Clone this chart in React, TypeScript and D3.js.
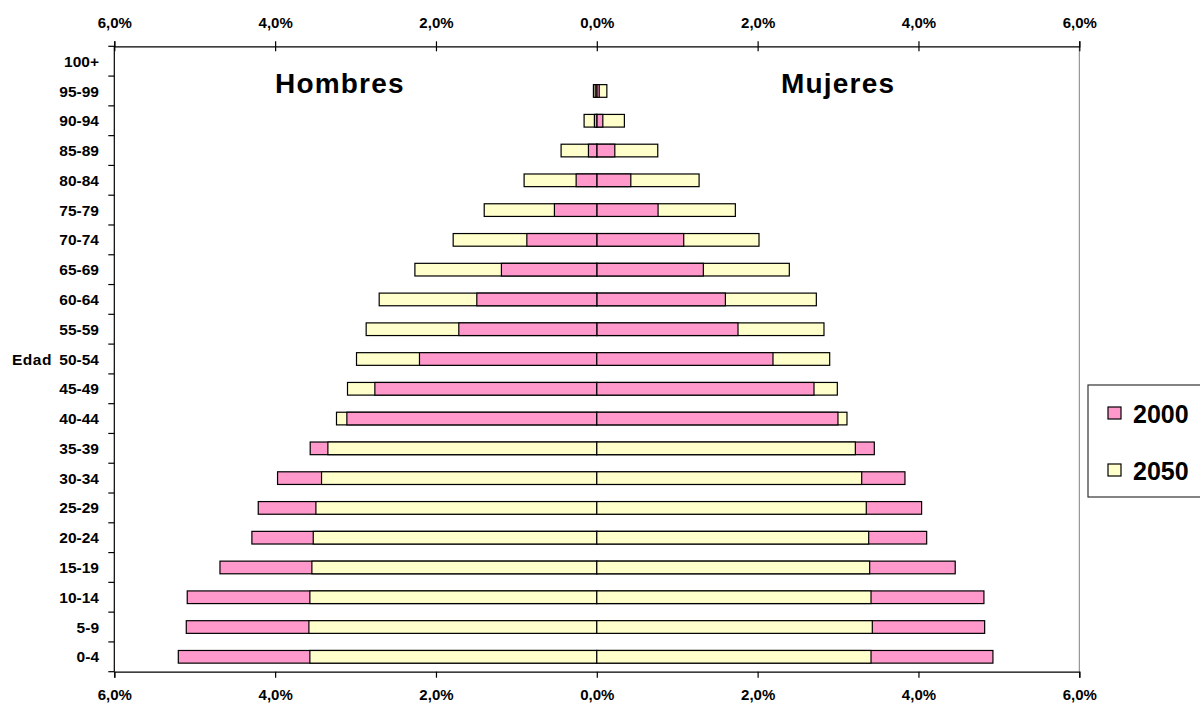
import * as d3 from "d3";
import { useEffect, useRef } from "react";

// age groups, top to bottom
const AGES = [
  "100+", "95-99", "90-94", "85-89", "80-84", "75-79", "70-74", "65-69",
  "60-64", "55-59", "50-54", "45-49", "40-44", "35-39", "30-34", "25-29",
  "20-24", "15-19", "10-14", "5-9", "0-4",
];

// % of total population, same order as AGES
const MEN_2000 = [
  0, 0.02, 0.03, 0.104, 0.257, 0.527, 0.87, 1.186, 1.492, 1.716, 2.205,
  2.76, 3.108, 3.564, 3.97, 4.21, 4.289, 4.686, 5.093, 5.105, 5.204,
];
const MEN_2050 = [
  0, 0.042, 0.158, 0.444, 0.904, 1.4, 1.786, 2.262, 2.706, 2.868, 2.988,
  3.1, 3.237, 3.344, 3.423, 3.493, 3.526, 3.543, 3.568, 3.58, 3.568,
];
const WOMEN_2000 = [
  0, 0.03, 0.075, 0.224, 0.423, 0.762, 1.081, 1.325, 1.599, 1.756, 2.191,
  2.701, 2.999, 3.451, 3.832, 4.039, 4.102, 4.457, 4.814, 4.823, 4.926,
];
const WOMEN_2050 = [
  0, 0.125, 0.343, 0.758, 1.272, 1.723, 2.017, 2.394, 2.73, 2.825, 2.896,
  2.991, 3.111, 3.215, 3.294, 3.351, 3.381, 3.393, 3.41, 3.426, 3.41,
];

const X_TICKS = [-6, -4, -2, 0, 2, 4, 6];

const SERIES = [
  { year: "2000", color: "#FF99CC", men: MEN_2000, women: WOMEN_2000 },
  { year: "2050", color: "#FFFFCC", men: MEN_2050, women: WOMEN_2050 },
];

const FONT = "'Liberation Sans', Arial, sans-serif";

interface Bar {
  age: string;
  value: number;
  color: string;
}

export default function App() {
  const svgRef = useRef<SVGSVGElement>(null);
  const width = 1200;
  const height = 704;

  useEffect(() => {
    if (!svgRef.current) return;
    const svg = d3.select(svgRef.current);
    svg.selectAll("*").remove();

    const plot = { left: 114.3, right: 1079.3, top: 46.3, bottom: 671.7 };

    const xScale = d3.scaleLinear().domain([-6, 6]).range([plot.left, plot.right]);
    const yScale = d3
      .scaleBand<string>()
      .domain(AGES)
      .range([plot.top, plot.bottom])
      .paddingInner(0.575)
      .paddingOuter(0.2875);

    const fmt = (d: d3.NumberValue) => Math.abs(+d).toFixed(1).replace(".", ",") + "%";

    // Bars: larger drawn first so the smaller one sits on top
    const bars: Bar[] = [];
    for (const s of SERIES) {
      AGES.forEach((age, i) => {
        bars.push({ age, value: -s.men[i], color: s.color });
        bars.push({ age, value: s.women[i], color: s.color });
      });
    }
    bars.sort((a, b) => Math.abs(b.value) - Math.abs(a.value));

    svg
      .append("g")
      .selectAll("rect")
      .data(bars.filter((b) => b.value !== 0))
      .join("rect")
      .attr("x", (d) => Math.min(xScale(0), xScale(d.value)))
      .attr("y", (d) => yScale(d.age)!)
      .attr("width", (d) => Math.abs(xScale(d.value) - xScale(0)))
      .attr("height", yScale.bandwidth())
      .style("fill", (d) => d.color)
      .style("stroke", "#000")
      .style("stroke-width", 1.2);

    // Right border of plot area
    svg
      .append("line")
      .attr("x1", plot.right)
      .attr("x2", plot.right)
      .attr("y1", plot.top)
      .attr("y2", plot.bottom)
      .style("stroke", "#808080")
      .style("stroke-width", 1);

    // Top axis (ticks cross the line)
    const top = svg
      .append("g")
      .attr("transform", `translate(0,${plot.top})`)
      .call(d3.axisTop(xScale).tickValues(X_TICKS).tickFormat(fmt).tickSize(5).tickPadding(13));
    top
      .selectAll(".tick")
      .append("line")
      .attr("y2", 5)
      .style("stroke", "#000");

    // Bottom axis
    const bottom = svg
      .append("g")
      .attr("transform", `translate(0,${plot.bottom})`)
      .call(d3.axisBottom(xScale).tickValues(X_TICKS).tickFormat(fmt).tickSize(6).tickPadding(12));

    for (const ax of [top, bottom]) {
      ax.selectAll("text")
        .style("font-family", FONT)
        .style("font-size", "15px")
        .style("font-weight", "bold")
        .style("fill", "#000");
      ax.selectAll(".domain, .tick line").style("stroke", "#000").style("stroke-width", 1.2);
    }

    // Left axis: line, boundary ticks, age labels
    const left = svg.append("g");
    left
      .append("line")
      .attr("x1", plot.left)
      .attr("x2", plot.left)
      .attr("y1", plot.top)
      .attr("y2", plot.bottom)
      .style("stroke", "#000")
      .style("stroke-width", 1.2);

    const step = yScale.step();
    left
      .selectAll("line.tick")
      .data(d3.range(AGES.length + 1))
      .join("line")
      .attr("class", "tick")
      .attr("x1", plot.left - 6)
      .attr("x2", plot.left)
      .attr("y1", (i) => plot.top + i * step)
      .attr("y2", (i) => plot.top + i * step)
      .style("stroke", "#000")
      .style("stroke-width", 1.2);

    left
      .selectAll("text.age")
      .data(AGES)
      .join("text")
      .attr("class", "age")
      .attr("x", 99)
      .attr("y", (d) => yScale(d)! + yScale.bandwidth() / 2)
      .attr("dy", "0.36em")
      .attr("text-anchor", "end")
      .style("font-family", FONT)
      .style("font-size", "15.5px")
      .style("font-weight", "bold")
      .text((d) => d);

    // Axis title
    svg
      .append("text")
      .attr("x", 12)
      .attr("y", yScale("50-54")! + yScale.bandwidth() / 2)
      .attr("dy", "0.36em")
      .style("font-family", FONT)
      .style("font-size", "15.5px")
      .style("font-weight", "bold")
      .style("letter-spacing", "0.5px")
      .text("Edad");

    // Side labels
    const side = [
      { text: "Hombres", x: 275 },
      { text: "Mujeres", x: 781 },
    ];
    svg
      .selectAll("text.side")
      .data(side)
      .join("text")
      .attr("class", "side")
      .attr("x", (d) => d.x)
      .attr("y", 93.3)
      .style("font-family", FONT)
      .style("font-size", "28px")
      .style("font-weight", "bold")
      .style("letter-spacing", "1.2px")
      .text((d) => d.text);

    // Legend
    const legend = svg.append("g").attr("transform", "translate(1088,385)");
    legend
      .append("rect")
      .attr("width", 130)
      .attr("height", 112)
      .style("fill", "#fff")
      .style("stroke", "#333")
      .style("stroke-width", 1.2);

    SERIES.forEach((s, i) => {
      const item = legend.append("g").attr("transform", `translate(0,${i * 57})`);
      item
        .append("rect")
        .attr("x", 20)
        .attr("y", 22)
        .attr("width", 13)
        .attr("height", 12)
        .style("fill", s.color)
        .style("stroke", "#000")
        .style("stroke-width", 1.2);
      item
        .append("text")
        .attr("x", 45)
        .attr("y", 38)
        .style("font-family", FONT)
        .style("font-size", "25px")
        .style("font-weight", "bold")
        .text(s.year);
    });
  }, []);

  return (
    <svg
      ref={svgRef}
      width={width}
      height={height}
      style={{ position: "absolute", left: 0, top: 0, background: "#fff" }}
    />
  );
}
